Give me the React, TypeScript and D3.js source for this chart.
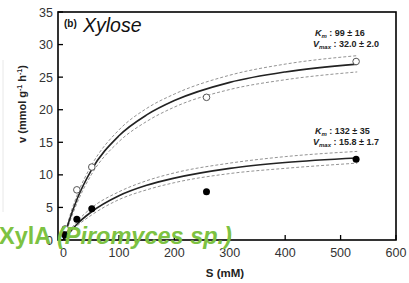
import React from "react";
import * as d3 from "d3";

// measured points (S in mM, v in mmol g-1 h-1)
const openS = [3, 24, 51, 258, 528];
const openV = [1.7, 7.7, 11.2, 21.9, 27.4];
const filledS = [2, 24, 51, 258, 528];
const filledV = [0.8, 3.2, 4.8, 7.4, 12.4];

// fitted curves + confidence bands
const curveS = [0, 10, 25, 50, 100, 150, 200, 300, 400, 530];
const xyloseFit = [0, 2.9, 6.4, 10.7, 16.0, 19.2, 21.4, 24.2, 25.8, 27.0];
const xyloseHi = [0, 3.3, 7.0, 11.4, 16.9, 20.2, 22.4, 25.3, 27.0, 28.3];
const xyloseLo = [0, 2.5, 5.8, 10.0, 15.1, 18.2, 20.4, 23.1, 24.6, 25.8];
const lowFit = [0, 1.1, 2.5, 4.3, 6.8, 8.4, 9.5, 11.0, 11.9, 12.6];
const lowHi = [0, 1.3, 2.9, 4.9, 7.4, 9.1, 10.3, 11.8, 12.8, 13.6];
const lowLo = [0, 0.95, 2.2, 3.8, 6.2, 7.7, 8.8, 10.2, 11.0, 11.8];

const xTicks = [0, 100, 200, 300, 400, 500, 600];
const yTicks = [0, 5, 10, 15, 20, 25, 30, 35];

const W = 409;
const H = 283;

export default function App() {
  const x = d3.scaleLinear().domain([-10, 600]).range([58, 396]);
  const y = d3.scaleLinear().domain([0, 35]).range([240, 12]);

  const line = d3
    .line<number>()
    .x((_, i) => x(curveS[i]))
    .y((d) => y(d))
    .curve(d3.curveMonotoneX);

  const font = "'Liberation Sans', Arial, sans-serif";

  return (
    <svg
      width={W}
      height={H}
      style={{ position: "absolute", left: 0, top: 0, background: "#fff" }}
      fontFamily={font}
    >
      <line x1={3} x2={3} y1={60} y2={212} stroke="#e8e8e8" strokeWidth={1} />

      {/* bands */}
      {[xyloseHi, xyloseLo, lowHi, lowLo].map((arr, i) => (
        <path key={"b" + i} d={line(arr) || ""} fill="none" stroke="#777" strokeWidth={0.8} strokeDasharray="3,2" />
      ))}
      {[xyloseFit, lowFit].map((arr, i) => (
        <path key={"f" + i} d={line(arr) || ""} fill="none" stroke="#222" strokeWidth={1.6} />
      ))}

      {openS.map((s, i) => (
        <circle key={"o" + i} cx={x(s)} cy={y(openV[i])} r={3.3} fill="#fff" stroke="#555" strokeWidth={1} />
      ))}
      {filledS.map((s, i) => (
        <circle key={"c" + i} cx={x(s)} cy={y(filledV[i])} r={3.5} fill="#000" />
      ))}

      {/* frame */}
      <rect x={58} y={12} width={338} height={228} fill="none" stroke="#000" strokeWidth={1.6} />

      {xTicks.map((t) => (
        <g key={"x" + t}>
          <line x1={x(t)} x2={x(t)} y1={240} y2={235} stroke="#000" strokeWidth={1.3} />
          <text x={x(t)} y={257} textAnchor="middle" fontSize={12.5} fill="#333">{t}</text>
        </g>
      ))}
      {yTicks.map((t) => (
        <g key={"y" + t}>
          <line x1={58} x2={63} y1={y(t)} y2={y(t)} stroke="#000" strokeWidth={1.3} />
          <text x={53} y={y(t) + 4.5} textAnchor="end" fontSize={12.5} fill="#333">{t}</text>
        </g>
      ))}

      <text x={225} y={277} textAnchor="middle" fontSize={11.5} fontWeight="bold" fill="#222">S (mM)</text>
      <text
        transform="translate(26,104) rotate(-90)"
        textAnchor="middle"
        fontSize={11}
        fontWeight="bold"
        fill="#222"
      >
        v (mmol g<tspan dy={-4} fontSize={7}>-1</tspan>
        <tspan dy={4}> h</tspan>
        <tspan dy={-4} fontSize={7}>-1</tspan>
        <tspan dy={4}>)</tspan>
      </text>

      <text x={64} y={27} fontSize={10} fontWeight="bold" fill="#111">(b)</text>
      <text x={83} y={32} fontSize={19.5} fontStyle="italic" fill="#111">Xylose</text>

      <g fontSize={9} fontWeight="bold" fill="#222">
        <text x={315} y={36}>
          <tspan fontStyle="italic">K</tspan><tspan fontSize={6} dy={2} fontStyle="italic">m</tspan><tspan dy={-2}> : 99 ± 16</tspan>
        </text>
        <text x={313} y={47}>
          <tspan fontStyle="italic">V</tspan><tspan fontSize={6} dy={2} fontStyle="italic">max</tspan><tspan dy={-2}> : 32.0 ± 2.0</tspan>
        </text>
        <text x={315} y={134}>
          <tspan fontStyle="italic">K</tspan><tspan fontSize={6} dy={2} fontStyle="italic">m</tspan><tspan dy={-2}> : 132 ± 35</tspan>
        </text>
        <text x={313} y={145}>
          <tspan fontStyle="italic">V</tspan><tspan fontSize={6} dy={2} fontStyle="italic">max</tspan><tspan dy={-2}> : 15.8 ± 1.7</tspan>
        </text>
      </g>

      <text x={-1} y={244} fontSize={23.5} fontWeight="bold" fill="#7dc242">
        XylA <tspan fontStyle="italic">(Piromyces sp.)</tspan>
      </text>
    </svg>
  );
}
